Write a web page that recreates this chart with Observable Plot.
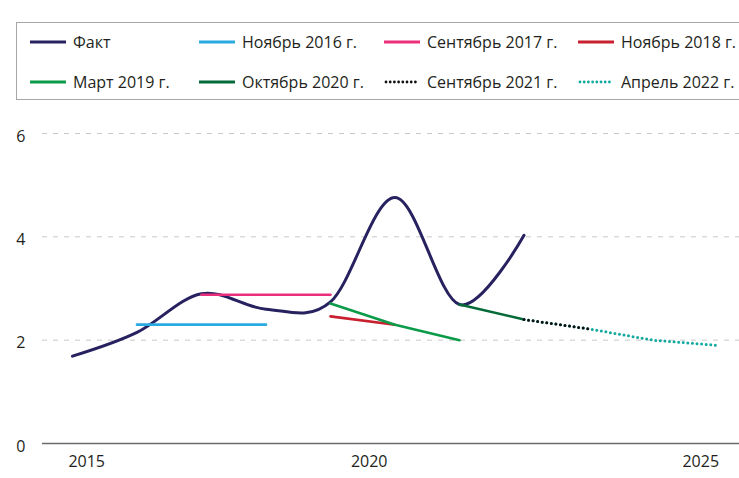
<!DOCTYPE html>
<html>
<head>
<meta charset="utf-8">
<script src="https://cdn.jsdelivr.net/npm/d3@7"></script>
<script src="https://cdn.jsdelivr.net/npm/@observablehq/plot@0.6"></script>
<style>
  html, body { margin: 0; padding: 0; background: #fff; overflow: hidden; }
  body { width: 739px; height: 478px; font-family: "Open Sans", sans-serif; }
  #legend { position: relative; width: 739px; height: 100px; }
  #legend .box { position: absolute; left: 16px; top: 22px; width: 740px; height: 78px; border: 1px solid #a6a6a6; box-sizing: border-box; }
  #legend .item { position: absolute; display: flex; align-items: center; font-size: 16px; color: #231f20; white-space: nowrap; height: 20px; }
  #legend svg { margin-right: 7px; }
  #chart svg { display: block; }
</style>
</head>
<body>
<div id="legend"><div class="box"></div></div>
<div id="chart"></div>
<script>
// ---- data ----
const factYears = [2015, 2016, 2017, 2018, 2019, 2020, 2021, 2022];
const fact      = [1.69, 2.15, 2.9, 2.6, 2.74, 4.76, 2.69, 4.03];

const nov2016Years = [2016, 2017, 2018];
const nov2016      = [2.3, 2.3, 2.3];
const sep2017Years = [2017, 2018, 2019];
const sep2017      = [2.88, 2.88, 2.88];
const nov2018Years = [2019, 2020];
const nov2018      = [2.46, 2.3];
const mar2019Years = [2019, 2020, 2021];
const mar2019      = [2.71, 2.3, 2.0];
const oct2020Years = [2021, 2022];
const oct2020      = [2.69, 2.4];
const sep2021Years = [2022, 2023];
const sep2021      = [2.4, 2.22];
const apr2022Years = [2022, 2023, 2024, 2025];
const apr2022      = [2.4, 2.22, 2.0, 1.9];

const seriesNames = ["Факт", "Ноябрь 2016 г.", "Сентябрь 2017 г.", "Ноябрь 2018 г.",
                     "Март 2019 г.", "Октябрь 2020 г.", "Сентябрь 2021 г.", "Апрель 2022 г."];
const seriesColors = ["#27225f", "#29aae1", "#ec2f7b", "#c8202f",
                      "#0b9b48", "#046a38", "#111111", "#10a9a0"];
const seriesDotted = [false, false, false, false, false, false, true, true];

const yTicks = [0, 2, 4, 6];
const xTickLabels = ["2015", "2020", "2025"];
const xTickValues = [2015.22, 2019.6, 2024.74];

// ---- legend ----
const legendCols = [30, 199, 384, 578];
const legendRows = [32, 72];
const legend = document.getElementById("legend");
seriesNames.forEach((name, i) => {
  const el = document.createElement("div");
  el.className = "item";
  el.style.left = legendCols[i % 4] + "px";
  el.style.top = legendRows[Math.floor(i / 4)] + "px";
  const dash = seriesDotted[i] ? 'stroke-dasharray="0,4.2" stroke-linecap="round" stroke-width="2.8"' : 'stroke-width="3"';
  el.innerHTML = `<svg width="36" height="6"><line x1="${seriesDotted[i] ? 2 : 0}" y1="3" x2="${seriesDotted[i] ? 35 : 36}" y2="3" stroke="${seriesColors[i]}" ${dash}/></svg><span>${name}</span>`;
  legend.appendChild(el);
});

// ---- chart ----
const toRows = (ys, vs, k) => ys.map((y, j) => ({year: y, value: vs[j], series: k}));
const forecasts = [
  [nov2016Years, nov2016, 1], [sep2017Years, sep2017, 2], [nov2018Years, nov2018, 3],
  [mar2019Years, mar2019, 4], [oct2020Years, oct2020, 5], [apr2022Years, apr2022, 7],
  [sep2021Years, sep2021, 6]
];
const factRows = toRows(factYears, fact, 0);

const marks = [
  Plot.ruleY(yTicks.filter(d => d > 0), {stroke: "#c8c8c8", strokeWidth: 1, strokeDasharray: "5,6"}),
  Plot.ruleY([0], {stroke: "#6b6b6b", strokeWidth: 1.6}),
  Plot.axisY(yTicks, {tickSize: 0, tickPadding: 17, fontSize: 16, fill: "#231f20", dy: 3,
    label: null, tickFormat: d => String(d)}),
  Plot.axisX(xTickValues, {tickSize: 0, tickPadding: 12, fontSize: 16, fill: "#231f20",
    label: null, tickFormat: (d, i) => xTickLabels[i]}),
  Plot.line(factRows, {x: "year", y: "value", stroke: seriesColors[0], strokeWidth: 3,
    curve: d3.curveCardinal.tension(0)})
];
forecasts.forEach(([ys, vs, k]) => {
  const opts = {x: "year", y: "value", stroke: seriesColors[k]};
  if (seriesDotted[k]) Object.assign(opts, {strokeWidth: 3, strokeDasharray: "0,4.6", strokeLinecap: "round"});
  else Object.assign(opts, {strokeWidth: 2.6});
  marks.push(Plot.line(toRows(ys, vs, k), opts));
});

const chart = Plot.plot({
  width: 739,
  height: 378,
  marginLeft: 42,
  marginRight: 0,
  marginTop: 33,
  marginBottom: 35,
  style: {fontFamily: "Open Sans, sans-serif", background: "#fff", overflow: "visible"},
  x: {domain: [2014.535, 2025.341], axis: null},
  y: {domain: [0, 6], axis: null},
  marks
});
document.getElementById("chart").appendChild(chart);
</script>
</body>
</html>
